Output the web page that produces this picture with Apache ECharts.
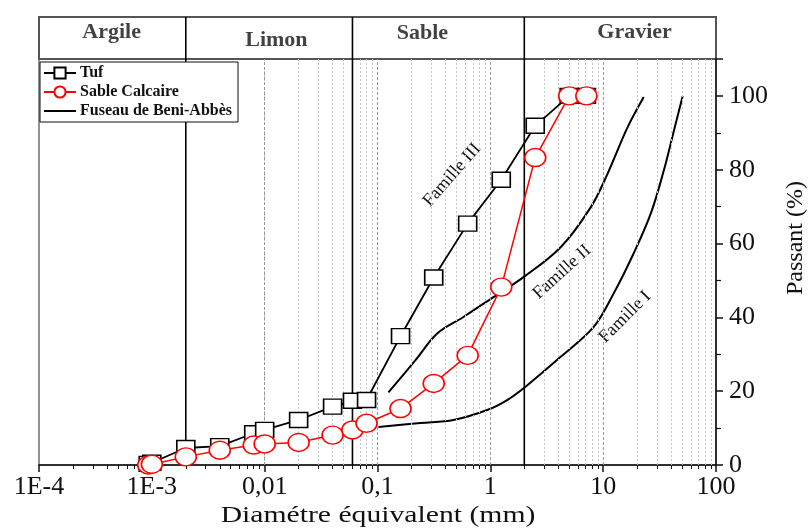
<!DOCTYPE html>
<html>
<head>
<meta charset="utf-8">
<title>Courbes granulométriques</title>
<style>
  html, body { margin: 0; padding: 0; background: #fff; }
  #main { width: 808px; height: 529px; }
</style>
</head>
<body>
<div id="main"></div>
<script src="https://cdn.jsdelivr.net/npm/echarts@6.0.0/dist/echarts.min.js"></script>
<script>
  // diamètres des tamis (mm)
  var tamis = [0.00093, 0.001, 0.002, 0.004, 0.008, 0.01, 0.02, 0.04, 0.06, 0.08, 0.16, 0.315, 0.63, 1.25, 2.5, 5, 7.1];
  // passants (%)
  var tufPassant = [0.3, 0.6, 4.6, 5.1, 8.6, 9.5, 12.2, 15.8, 17.4, 17.6, 34.9, 50.8, 65.4, 77.3, 91.9, 100, 100];
  var sablePassant = [0, 0.2, 2.2, 4.0, 5.4, 5.7, 6.1, 8.1, 9.5, 11.3, 15.3, 22.1, 29.7, 48.2, 83.3, 100, 100];

  // fuseau de Beni-Abbès : limite supérieure / inférieure
  var fuseauSupD = [0.125, 0.217, 0.338, 0.578, 1.067, 1.97, 4.2, 7.75, 10.9, 16.4, 22.9];
  var fuseauSupP = [19.7, 28.4, 35.6, 40.1, 45.5, 50.9, 59, 69.8, 78.8, 91.4, 99.7];
  var fuseauInfD = [0.102, 0.24, 0.471, 0.938, 1.41, 2.05, 4.2, 8.24, 12.4, 18.6, 26.4, 34.4, 42.3, 50.7];
  var fuseauInfP = [10.3, 11.4, 12.2, 14.9, 17.6, 21.2, 29.3, 37.4, 46.5, 57.3, 68.1, 79.7, 90.5, 100];

  // axes
  var xTicks = [1e-4, 1e-3, 0.01, 0.1, 1, 10, 100];
  var xTickLabels = ['1E-4', '1E-3', '0,01', '0,1', '1', '10', '100'];
  var limites = [0.002, 0.06, 2];
  var classes = ['Argile', 'Limon', 'Sable', 'Gravier'];
  var classesPos = [4.4e-4, 0.0127, 0.25, 19];
  var classesHaut = [0.64, 0.45, 0.62, 0.64];

  var minorTicks = [];
  for (var d = 1e-4; d < 50; d *= 10) {
    for (var m = 2; m <= 9; m++) minorTicks.push(+(d * m).toPrecision(3));
  }

  function pairs(xs, ys) {
    return xs.map(function (x, i) { return [x, ys[i]]; });
  }

  var serif = '"Liberation Serif", "Times New Roman", serif';
  var myChart = echarts.init(document.getElementById('main'));

  // lignes verticales de séparation des classes (graphe + bandeau)
  var limitSeries = [];
  limites.forEach(function (v) {
    limitSeries.push({
      type: 'line', xAxisIndex: 0, yAxisIndex: 0, symbol: 'none', silent: true, z: 10,
      lineStyle: { color: '#000', width: 1.6 }, data: [[v, 0], [v, 110]]
    });
    limitSeries.push({
      type: 'line', xAxisIndex: 2, yAxisIndex: 1, symbol: 'none', silent: true, z: 10,
      lineStyle: { color: '#000', width: 1.6 }, data: [[v, 0], [v, 1]]
    });
  });

  var option = {
    animation: false,
    grid: [
      { left: 39, right: 92, top: 59, bottom: 64, show: true, borderColor: '#222', borderWidth: 1 },
      { left: 39, right: 92, top: 17, height: 42, show: true, borderColor: '#555', borderWidth: 2 }
    ],
    xAxis: [
      {
        type: 'log', gridIndex: 0, min: 1e-4, max: 100, logBase: 10,
        axisLine: { lineStyle: { color: '#111', width: 1.5 } },
        axisTick: { inside: false, length: 7, lineStyle: { color: '#111', width: 1.5 }, customValues: xTicks },
        axisLabel: {
          fontFamily: serif, fontSize: 26, color: '#111', margin: 9, customValues: xTicks,
          formatter: function (v) { return xTickLabels[Math.round(Math.log10(v)) + 4]; }
        },
        splitLine: { show: false }
      },
      {
        type: 'log', gridIndex: 0, min: 1e-4, max: 100, position: 'bottom',
        axisLine: { show: false },
        axisTick: { inside: false, length: 4, lineStyle: { color: '#111', width: 1 }, customValues: minorTicks },
        axisLabel: { show: false },
        splitLine: { show: false }
      },
      {
        type: 'log', gridIndex: 1, min: 1e-4, max: 100,
        axisLine: { show: false }, axisTick: { show: false }, axisLabel: { show: false }, splitLine: { show: false }
      }
    ],
    yAxis: [
      {
        type: 'value', gridIndex: 0, position: 'right', min: 0, max: 110, interval: 20,
        axisLine: { show: true, lineStyle: { color: '#111', width: 1.5 } },
        axisTick: { show: true, inside: false, length: 7, lineStyle: { color: '#111', width: 1.5 } },
        minorTick: { show: true, splitNumber: 2, length: 5, lineStyle: { color: '#111', width: 1.2 } },
        axisLabel: { fontFamily: serif, fontSize: 26, color: '#111', margin: 13, showMaxLabel: false },
        splitLine: { show: false }
      },
      {
        type: 'value', gridIndex: 1, min: 0, max: 1,
        axisLine: { show: false }, axisTick: { show: false }, axisLabel: { show: false }, splitLine: { show: false }
      }
    ],
    legend: {
      left: 40, top: 62, z: 30, orient: 'vertical', itemGap: 3, itemWidth: 32, itemHeight: 14,
      padding: [3, 6, 3, 3], borderColor: '#111', borderWidth: 1, backgroundColor: '#fff',
      data: ['Tuf', 'Sable Calcaire', { name: 'Fuseau de Beni-Abbès', itemStyle: { opacity: 0 } }],
      textStyle: { fontFamily: serif, fontWeight: 'bold', fontSize: 16, color: '#111', padding: [0, 0, 0, -1] }
    },
    series: [
      {
        name: 'grille', type: 'line', xAxisIndex: 0, yAxisIndex: 0, data: [], silent: true, z: 1,
        markLine: {
          silent: true, symbol: 'none', label: { show: false }, animation: false,
          data: minorTicks.map(function (v) {
            return { xAxis: v, lineStyle: { type: [2, 2], color: '#c8c8c8', width: 1 } };
          }).concat(xTicks.slice(1, -1).map(function (v) {
            return { xAxis: v, lineStyle: { type: [3, 2], color: '#999', width: 1 } };
          }))
        }
      },
      {
        name: 'classes', type: 'scatter', xAxisIndex: 2, yAxisIndex: 1, symbolSize: 0, silent: true,
        data: classes.map(function (c, i) { return { name: c, value: [classesPos[i], classesHaut[i]] }; }),
        label: {
          show: true, position: 'inside', formatter: '{b}',
          fontFamily: serif, fontWeight: 'bold', fontSize: 22, color: '#111'
        }
      }
    ].concat(limitSeries).concat([
      {
        name: 'Fuseau de Beni-Abbès', type: 'line', smooth: 0.35, symbol: 'none', z: 3,
        lineStyle: { color: '#000', width: 2 }, itemStyle: { color: '#000' },
        data: pairs(fuseauSupD, fuseauSupP)
      },
      {
        name: 'Fuseau de Beni-Abbès', type: 'line', smooth: 0.35, symbol: 'none', z: 3,
        lineStyle: { color: '#000', width: 2 }, itemStyle: { color: '#000' },
        data: pairs(fuseauInfD, fuseauInfP)
      },
      {
        name: 'Tuf', type: 'line', symbol: 'rect', symbolSize: [18, 15], z: 11,
        lineStyle: { color: '#000', width: 1.8 },
        itemStyle: { color: '#fff', borderColor: '#000', borderWidth: 1.5 },
        data: pairs(tamis, tufPassant)
      },
      {
        name: 'Sable Calcaire', type: 'line', symbol: 'circle', symbolSize: [21, 18], z: 12,
        lineStyle: { color: '#f00', width: 1.5 },
        itemStyle: { color: '#fff', borderColor: '#f00', borderWidth: 1.5 },
        data: pairs(tamis, sablePassant)
      }
    ]),
    graphic: [
      { type: 'text', x: 378, y: 516, scaleX: 1.29, style: { text: 'Diamétre équivalent (mm)', font: '23px ' + serif, fill: '#111', align: 'center', verticalAlign: 'middle' } },
      { type: 'text', x: 796, y: 238, rotation: Math.PI / 2, style: { text: 'Passant (%)', font: '24px ' + serif, fill: '#111', align: 'center', verticalAlign: 'middle' } },
      { type: 'text', x: 452, y: 175, rotation: Math.PI * 0.27, style: { text: 'Famille III', font: '18px ' + serif, fill: '#111', align: 'center', verticalAlign: 'middle' } },
      { type: 'text', x: 562, y: 272, rotation: Math.PI * 0.235, style: { text: 'Famille II', font: '18px ' + serif, fill: '#111', align: 'center', verticalAlign: 'middle' } },
      { type: 'text', x: 625, y: 317, rotation: Math.PI * 0.25, style: { text: 'Famille I', font: '18px ' + serif, fill: '#111', align: 'center', verticalAlign: 'middle' } }
    ]
  };

  myChart.setOption(option);
</script>
</body>
</html>
